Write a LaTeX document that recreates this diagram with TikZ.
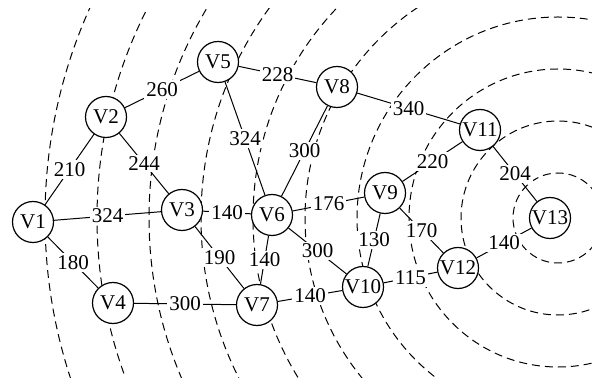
\documentclass[tikz,border=0pt]{standalone}
\usepackage{fontspec}
\setmainfont{Liberation Serif}
\begin{document}
\begin{tikzpicture}[x=0.5pt,y=-0.5pt,
vertex/.style={draw,circle,fill=white,line width=0.6pt,minimum size=20.5pt,inner sep=0pt,font=\fontsize{10.5}{12}\selectfont},
weight/.style={fill=white,inner sep=1pt,font=\fontsize{10.5}{12}\selectfont},
ringline/.style={dash pattern=on 4pt off 2.5pt,line width=0.5pt}]

\useasboundingbox (0,0) rectangle (592,378);

\begin{scope}
\clip (0,9) rectangle (592,378);
\foreach \r in {0,...,9}
{
\draw[ringline] (558,218) circle[radius=22.5pt+26pt*\r];
}
\end{scope}

\node[vertex] (v1) at (33,222){V1};
\node[vertex] (v2) at (106,117){V2};
\node[vertex] (v3) at (182,210){V3};
\node[vertex] (v4) at (113,303){V4};
\node[vertex] (v5) at (218,62){V5};
\node[vertex] (v6) at (272,215){V6};
\node[vertex] (v7) at (257,305){V7};
\node[vertex] (v8) at (337,87){V8};
\node[vertex] (v9) at (385,193){V9};
\node[vertex] (v10) at (363,287){V10};
\node[vertex] (v11) at (480,130){V11};
\node[vertex] (v12) at (458,268){V12};
\node[vertex] (v13) at (550,218){V13};

\foreach \a/\b/\w in {v1/v2/210,v1/v3/324,v1/v4/180,v2/v5/260,v2/v3/244,
v5/v8/228,v5/v6/324,v8/v6/300,v8/v11/340,v11/v9/220,v11/v13/204,
v3/v6/140,v3/v7/190,v6/v9/176,v6/v7/140,v6/v10/300,v4/v7/300,
v7/v10/140,v9/v10/130,v9/v12/170,v10/v12/115,v12/v13/140}
{
\draw[line width=0.5pt] (\a)--(\b) node[weight,midway]{\w};
}

\end{tikzpicture}
\end{document}
